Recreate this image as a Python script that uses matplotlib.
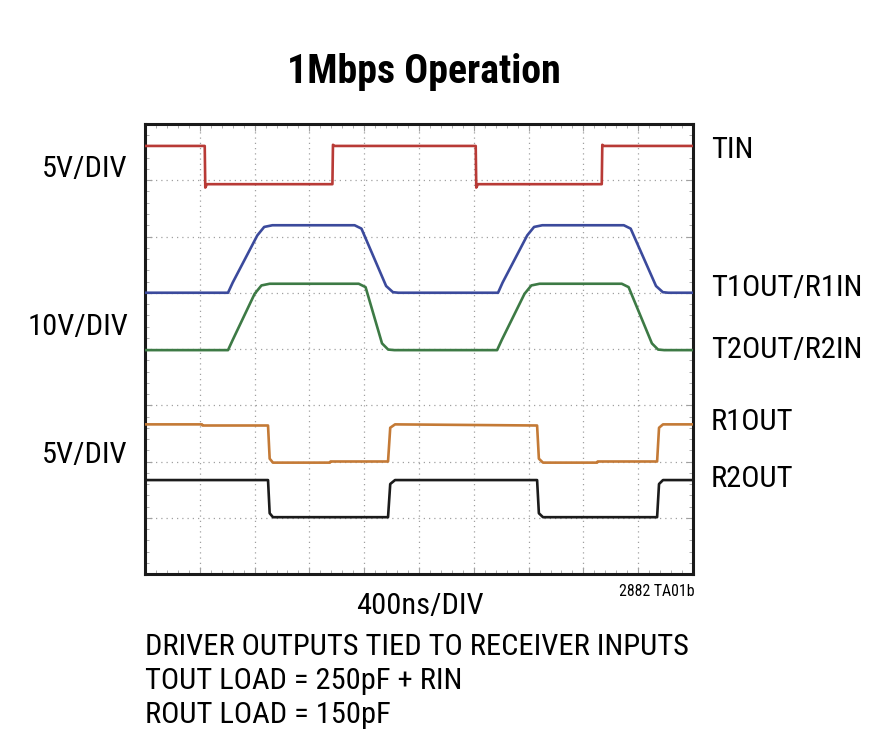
import matplotlib
matplotlib.use("Agg")
import matplotlib.pyplot as plt
from matplotlib import font_manager as fm

names = {f.name for f in fm.fontManager.ttflist}
cands = ['Roboto Condensed', 'Archivo Narrow', 'PT Sans Narrow', 'Barlow Semi Condensed', 'Liberation Sans']
FAM = [c for c in cands if c in names][:1] + ['DejaVu Sans']
plt.rcParams['font.family'] = FAM

# ---- data (time in ns, level in screen divisions from bottom) ----
tin_t = [0, 436, 440, 452, 1368, 1372, 1385, 2414, 2418, 2430, 3334, 3338, 3350, 4000]
tin_v = [7.61, 7.61, 6.87, 6.93, 6.93, 7.63, 7.61, 7.61, 6.87, 6.93, 6.93, 7.63, 7.61, 7.61]

t1_t = [0, 606, 640, 820, 870, 930, 1530, 1580, 1760, 1810, 1850, 2577, 2610, 2790, 2840, 2900, 3495, 3545, 3730, 3780, 3820, 4000]
t1_v = [5.00, 5.00, 5.18, 6.02, 6.17, 6.20, 6.20, 6.14, 5.12, 5.01, 5.00, 5.00, 5.18, 6.02, 6.17, 6.20, 6.20, 6.14, 5.12, 5.01, 5.00, 5.00]

t2_t = [0, 606, 640, 800, 850, 910, 1560, 1610, 1730, 1775, 1820, 2570, 2604, 2770, 2820, 2880, 3480, 3530, 3700, 3745, 3790, 4000]
t2_v = [3.98, 3.98, 4.16, 4.98, 5.13, 5.16, 5.16, 5.10, 4.10, 3.99, 3.98, 3.98, 4.16, 4.98, 5.13, 5.16, 5.16, 5.10, 4.10, 3.99, 3.98, 3.98]

r1_t = [0, 416, 420, 898, 910, 934, 1350, 1354, 1774, 1790, 1825, 2862, 2875, 2905, 3300, 3304, 3738, 3752, 3781, 4000]
r1_v = [2.66, 2.66, 2.64, 2.64, 2.05, 1.98, 1.98, 2.00, 2.00, 2.60, 2.66, 2.64, 2.05, 1.98, 1.98, 2.00, 2.00, 2.60, 2.66, 2.66]

r2_t = [0, 898, 910, 934, 1774, 1790, 1825, 2862, 2875, 2905, 3738, 3752, 3781, 4000]
r2_v = [1.67, 1.67, 1.08, 1.01, 1.01, 1.60, 1.67, 1.67, 1.08, 1.01, 1.01, 1.60, 1.67, 1.67]

traces = [(tin_t, tin_v, '#b83a36'), (t1_t, t1_v, '#3b4a9c'), (t2_t, t2_v, '#3d7a45'),
          (r1_t, r1_v, '#c47a36'), (r2_t, r2_v, '#1b1b1b')]

right_labels = ['TIN', 'T1OUT/R1IN', 'T2OUT/R2IN', 'R1OUT', 'R2OUT']
right_base_px = [158, 296, 358, 430, 487]
left_labels = ['5V/DIV', '10V/DIV', '5V/DIV']
left_base_px = [177, 335, 463]
notes = ['DRIVER OUTPUTS TIED TO RECEIVER INPUTS', 'TOUT LOAD = 250pF + RIN', 'ROUT LOAD = 150pF']
notes_base_px = [655, 689, 723]

W, H = 895, 752
fig = plt.figure(figsize=(W / 100, H / 100), dpi=100)
ax = fig.add_axes([145 / W, 1 - 574 / H, (693 - 145) / W, (574 - 124) / H])
ax.set_xlim(0, 4000)
ax.set_ylim(0, 8)

# graticule
gc = '#a0a0a0'
for k in range(1, 10):
    ax.axvline(k * 400, color=gc, lw=0.9, ls=(0, (1, 3.2)), zorder=1)
for k in range(1, 8):
    ax.axhline(k, color=gc, lw=0.9, ls=(0, (1, 3.2)), zorder=1)
ax.set_xticks([i * 400 for i in range(11)])
ax.set_xticks([i * 80 for i in range(51)], minor=True)
ax.set_yticks(range(9))
ax.set_yticks([i * 0.2 for i in range(41)], minor=True)
ax.tick_params(which='both', direction='in', colors=gc, top=True, right=True,
               labelbottom=False, labelleft=False)
ax.tick_params(which='major', length=5)
ax.tick_params(which='minor', length=3)

for t, v, c in traces:
    ax.plot(t, v, color=c, lw=1.9, zorder=3, solid_joinstyle='round')

for s in ax.spines.values():
    s.set_linewidth(2.2)
    s.set_color('#1a1a1a')

def fy(px):
    return 1 - px / H

def fit(txt, width_px):
    fig.canvas.draw()
    r = fig.canvas.get_renderer()
    w = txt.get_window_extent(r).width
    txt.set_fontsize(txt.get_fontsize() * width_px / w)

title = fig.text(424 / W, fy(83), '1Mbps Operation', ha='center', va='baseline', fontsize=25, fontweight='bold')
fit(title, 274)
body = []
for lab, b in zip(right_labels, right_base_px):
    body.append(fig.text(711 / W, fy(b), lab, ha='left', va='baseline', fontsize=20))
for lab, b in zip(left_labels, left_base_px):
    body.append(fig.text(128 / W, fy(b), lab, ha='right', va='baseline', fontsize=20))
body.append(fig.text(420 / W, fy(614), '400ns/DIV', ha='center', va='baseline', fontsize=20))
small = fig.text(695 / W, fy(596), '2882 TA01b', ha='right', va='baseline', fontsize=11)
fit(small, 76)
notes_t = []
for lab, b in zip(notes, notes_base_px):
    notes_t.append(fig.text(145 / W, fy(b), lab, ha='left', va='baseline', fontsize=20))
fit(notes_t[0], 543)
fs = notes_t[0].get_fontsize()
for t in notes_t + body:
    t.set_fontsize(fs)

fig.savefig('out.png', dpi=100)
